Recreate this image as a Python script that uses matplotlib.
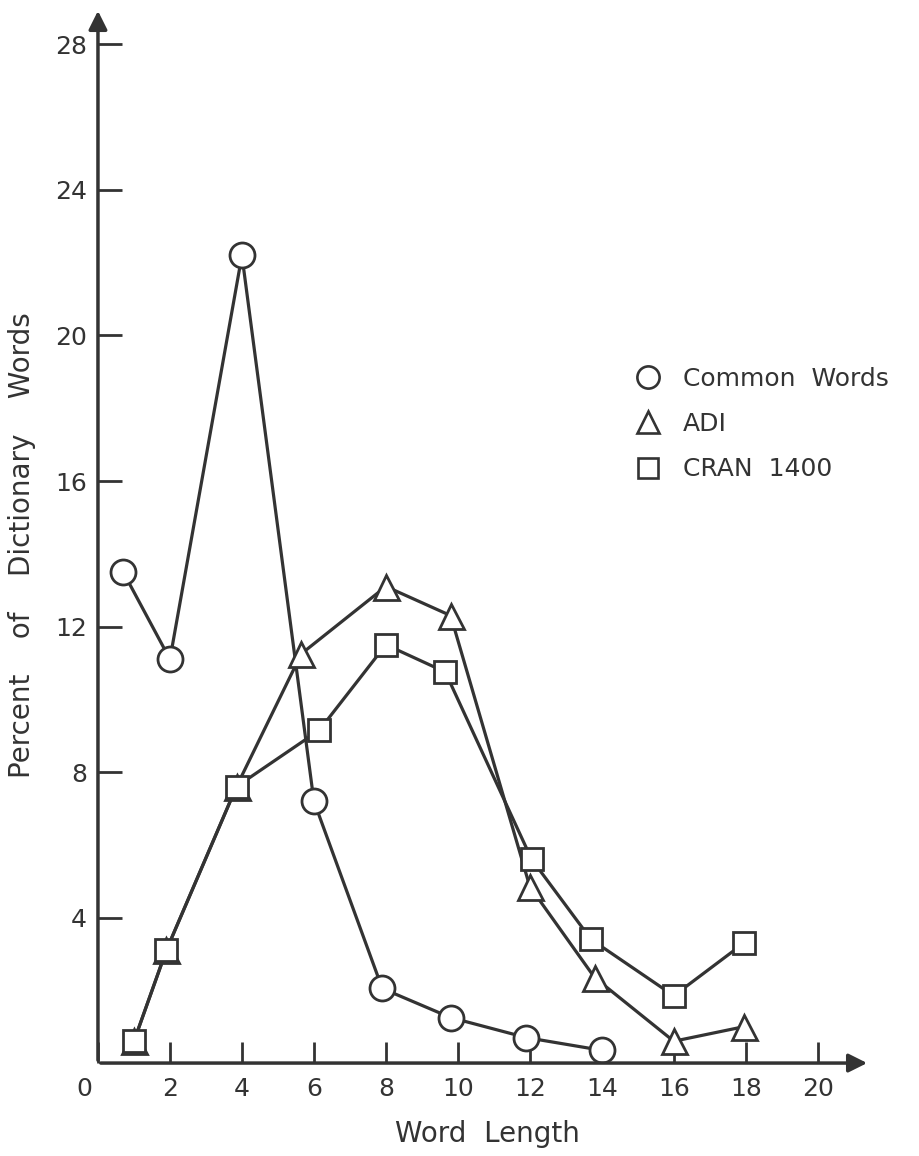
import matplotlib
matplotlib.use("Agg")
import matplotlib.pyplot as plt
import matplotlib.transforms as mtransforms
from matplotlib.lines import Line2D

# values
common_x = [0.7, 2, 4, 6, 7.9, 9.8, 11.9, 14.0]
common_y = [13.5, 11.1, 22.2, 7.2, 2.05, 1.25, 0.7, 0.35]
adi_x = [1, 1.9, 3.85, 5.65, 8, 9.8, 12, 13.8, 16, 17.95]
adi_y = [0.6, 3.1, 7.6, 11.25, 13.1, 12.3, 4.85, 2.35, 0.6, 1.0]
cran_x = [1, 1.9, 3.85, 6.15, 8, 9.65, 12.05, 13.7, 16, 17.95]
cran_y = [0.6, 3.1, 7.6, 9.15, 11.5, 10.75, 5.6, 3.4, 1.85, 3.3]

xticks = [0, 2, 4, 6, 8, 10, 12, 14, 16, 18, 20]
yticks = [4, 8, 12, 16, 20, 24, 28]

ink = "#333333"
plt.rcParams['font.family'] = ['DejaVu Sans']

fig = plt.figure(figsize=(9.19, 11.56), dpi=100)
ax = fig.add_axes([0.1066, 0.0804, 0.840, 0.9126])
ax.set_xlim(0, 21.45)
ax.set_ylim(0, 29.0)

style = dict(color=ink, lw=2.3, markersize=18, markerfacecolor="white",
             markeredgecolor=ink, markeredgewidth=2.0)
ax.plot(common_x, common_y, marker="o", zorder=3, **style)
ax.plot(adi_x, adi_y, marker="^", zorder=4, **style)
ax.plot(cran_x, cran_y, marker="s", zorder=5, **dict(style, markersize=16))

for s in ax.spines.values():
    s.set_visible(False)

arrow = dict(arrowstyle="-|>", color=ink, lw=2.5, mutation_scale=28)
ax.annotate("", xy=(21.45, 0), xytext=(0, 0), arrowprops=arrow, annotation_clip=False)
ax.annotate("", xy=(0, 29.0), xytext=(0, 0), arrowprops=arrow, annotation_clip=False)

ax.set_xticks(xticks)
ax.set_yticks(yticks)
ax.tick_params(direction="in", length=15, width=2, color=ink, labelcolor=ink,
               labelsize=18, pad=10)
ax.tick_params(axis="y", length=17, pad=8)

# the "0" sits a little left of the origin
lab0 = ax.get_xticklabels()[0]
lab0.set_transform(lab0.get_transform() +
                   mtransforms.ScaledTranslation(-14 / 100, 0, fig.dpi_scale_trans))

ax.set_xlabel("Word  Length", fontsize=20, color=ink)
ax.set_ylabel("Percent    of    Dictionary    Words", fontsize=20, color=ink)
ax.xaxis.set_label_coords(0.505, -0.054)
ax.yaxis.set_label_coords(-0.08, 0.491)

handles = [
    Line2D([], [], ls="none", marker="o", markersize=16, markerfacecolor="white",
           markeredgecolor=ink, markeredgewidth=1.9),
    Line2D([], [], ls="none", marker="^", markersize=16, markerfacecolor="white",
           markeredgecolor=ink, markeredgewidth=1.9),
    Line2D([], [], ls="none", marker="s", markersize=15, markerfacecolor="white",
           markeredgecolor=ink, markeredgewidth=1.9),
]
fig.legend(handles, ["Common  Words", "ADI", "CRAN  1400"], loc="upper left",
           bbox_to_anchor=(0.664, 0.702), frameon=False, fontsize=18,
           handlelength=1.2, handletextpad=0.8, labelspacing=0.85,
           labelcolor=ink)

fig.savefig("out.png", dpi=100, facecolor="white")
